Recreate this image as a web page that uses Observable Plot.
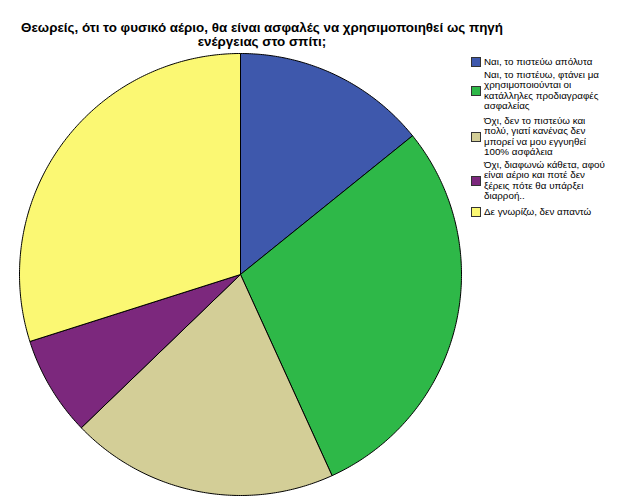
<!DOCTYPE html>
<html>
<head>
<meta charset="utf-8">
<script src="https://cdn.jsdelivr.net/npm/d3@7"></script>
<script src="https://cdn.jsdelivr.net/npm/@observablehq/plot@0.6"></script>
<style>
  body { margin: 0; background: #fff; }
  #wrap { position: relative; width: 629px; height: 504px; overflow: hidden; font-family: "Liberation Sans", Arial, sans-serif; }
  #title { position: absolute; left: 0; top: 21px; width: 524px; text-align: center; font-weight: bold; font-size: 13.4px; line-height: 14px; color: #000; white-space: nowrap; }
  #chart { position: absolute; left: 0; top: 50px; }
  .item { position: absolute; left: 471px; display: flex; align-items: center; font-size: 9.8px; line-height: 10.3px; color: #000; }
  .sw { width: 8px; height: 8px; border: 1px solid #333; margin-right: 3px; flex: none; }
</style>
</head>
<body>
<div id="wrap">
  <div id="title">Θεωρείς, ότι το φυσικό αέριο, θα είναι ασφαλές να χρησιμοποιηθεί ως πηγή<br>ενέργειας στο σπίτι;</div>
  <div id="chart"></div>
  <div id="legend"></div>
</div>
<script>
const categories = [
  "Ναι, το πιστεύω απόλυτα",
  "Ναι, το πιστέυω, φτάνει μα\nχρησιμοποιούνται οι\nκατάλληλες προδιαγραφές\nασφαλείας",
  "Όχι, δεν το πιστεύω και\nπολύ, γιατί κανένας δεν\nμπορεί να μου εγγυηθεί\n100% ασφάλεια",
  "Όχι, διαφωνώ κάθετα, αφού\nείναι αέριο και ποτέ δεν\nξέρεις πότε θα υπάρξει\nδιαρροή..",
  "Δε γνωρίζω, δεν απαντώ"
];
const percents = [14.2, 29.0, 19.6, 7.3, 29.9];
const colors = ["#3E58AC", "#2EB848", "#D3CE97", "#7C287D", "#FBF873"];

const legendTops = [57, 70, 116, 160, 207];

// compute pie slices
const pie = d3.pie().sort(null).value(d => d.v).startAngle(0).endAngle(2 * Math.PI);
const arcs = pie(categories.map((c, i) => ({c, v: percents[i]})));
const pts = [];
arcs.forEach(a => {
  const c = a.data.c;
  pts.push({c, x: 0, y: 0});
  const n = Math.max(2, Math.ceil((a.endAngle - a.startAngle) / 0.01));
  for (let k = 0; k <= n; k++) {
    const t = a.startAngle + (a.endAngle - a.startAngle) * k / n;
    pts.push({c, x: Math.sin(t), y: Math.cos(t)});
  }
  pts.push({c, x: 0, y: 0});
});

const plot = Plot.plot({
  width: 629,
  height: 454,
  marginLeft: 19,
  marginRight: 168,
  marginTop: 3,
  marginBottom: 9,
  x: {domain: [-1, 1], axis: null},
  y: {domain: [-1, 1], axis: null},
  color: {domain: categories, range: colors},
  marks: [
    Plot.line(pts, {x: "x", y: "y", z: "c", fill: "c", stroke: "#000", strokeWidth: 1, strokeLinejoin: "round"})
  ]
});
document.getElementById("chart").appendChild(plot);

const legend = document.getElementById("legend");
categories.forEach((c, i) => {
  const item = document.createElement("div");
  item.className = "item";
  item.style.top = legendTops[i] + "px";
  const sw = document.createElement("div");
  sw.className = "sw";
  sw.style.background = colors[i];
  const tx = document.createElement("div");
  tx.innerHTML = c.split("\n").join("<br>");
  item.appendChild(sw);
  item.appendChild(tx);
  legend.appendChild(item);
});
</script>
</body>
</html>
